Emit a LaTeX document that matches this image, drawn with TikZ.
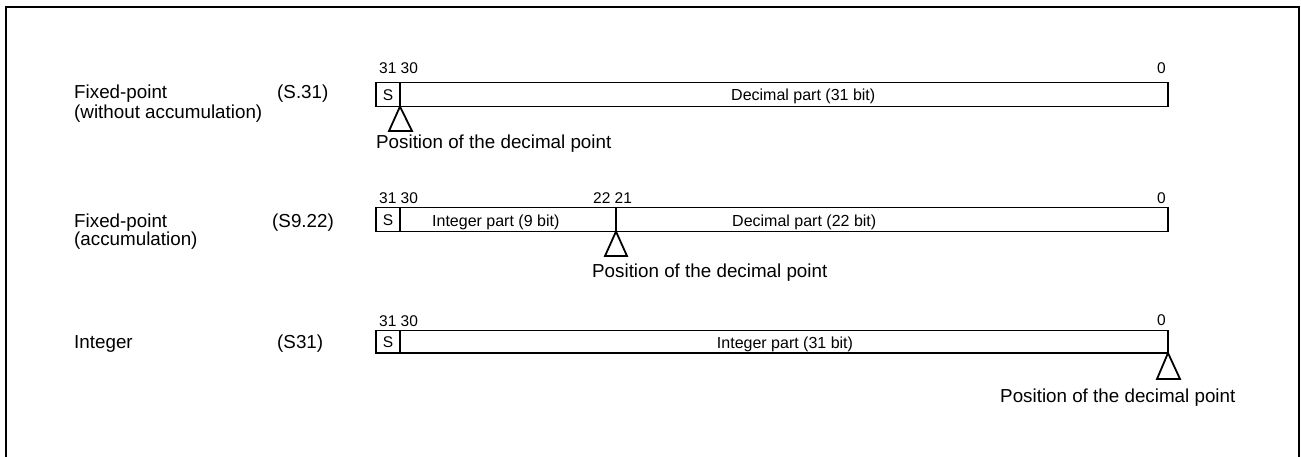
\documentclass[tikz,border=0pt]{standalone}
\usepackage{fontspec}
\setmainfont{Liberation Sans}
\begin{document}
\begin{tikzpicture}[x=1pt,y=-1pt,
  big/.style={font=\fontsize{18.8}{20}\selectfont, inner sep=0pt, anchor=base west},
  mid/.style={font=\fontsize{16}{18}\selectfont, inner sep=0pt, anchor=base west},
  sm/.style={font=\fontsize{15.5}{18}\selectfont, inner sep=0pt, anchor=base west},
  field/.style={line width=1.8pt},
  ptr/.style={line width=1.8pt, line join=miter},
  frame/.style={line width=2.5pt}]
\useasboundingbox (0,0) rectangle (1301,457);
\draw[frame] (6,457) -- (6,7) -- (1299,7) -- (1299,457);

% ---------- Row 1 ----------
\node[big] (l1a) at (74,99) {Fixed-point};
\node[big] (l1b) at (74,119) {(without accumulation)};
\node[big] (f1) at (277,99) {(S.31)};
\node[sm] (b1a) at (379,74) {31 30};
\node[sm] (b1z) at (1157,74) {0};
\draw[field] (376,82.5) rectangle (1168,106.5);
\draw[field] (400,82.5) -- (400,106.5);
\node[sm, anchor=base] (s1) at (388,100.5) {S};
\node[mid] (d1) at (731,101) {Decimal part (31 bit)};
\draw[ptr] (400,106.5) -- (389,131) -- (412,131) -- cycle;
\node[big] (p1) at (376,148.5) {Position of the decimal point};

% ---------- Row 2 ----------
\node[big] (l2a) at (74,228) {Fixed-point};
\node[big] (l2b) at (74,246) {(accumulation)};
\node[big] (f2) at (272,228) {(S9.22)};
\node[sm] (b2a) at (379,204) {31 30};
\node[sm] (b2m) at (593,204) {22 21};
\node[sm] (b2z) at (1157,204) {0};
\draw[field] (376,207.5) rectangle (1168,231.5);
\draw[field] (400,207.5) -- (400,231.5);
\draw[field] (616,207.5) -- (616,231.5);
\node[sm, anchor=base] (s2) at (388,225.5) {S};
\node[mid] (i2) at (432,226) {Integer part (9 bit)};
\node[mid] (d2) at (732,226) {Decimal part (22 bit)};
\draw[ptr] (616,231.5) -- (605,256) -- (627,256) -- cycle;
\node[big] (p2) at (592,277) {Position of the decimal point};

% ---------- Row 3 ----------
\node[big] (l3a) at (74,348) {Integer};
\node[big] (f3) at (277,348) {(S31)};
\node[sm] (b3a) at (379,326) {31 30};
\node[sm] (b3z) at (1157,325) {0};
\draw[field] (376,330.5) rectangle (1168,353);
\draw[field] (400,330.5) -- (400,353);
\node[sm, anchor=base] (s3) at (388,347.5) {S};
\node[mid, anchor=base] (i3) at (785,348) {Integer part (31 bit)};
\draw[ptr] (1168,353) -- (1157,379) -- (1180,379) -- cycle;
\node[big] (p3) at (1000,402) {Position of the decimal point};
\end{tikzpicture}
\end{document}
